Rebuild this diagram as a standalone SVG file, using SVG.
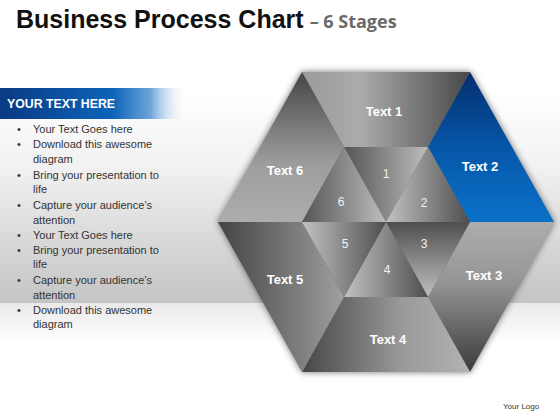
<svg xmlns="http://www.w3.org/2000/svg" width="560" height="420" viewBox="0 0 560 420">
<style>
.title{font-family:"Liberation Sans",Arial,sans-serif;font-weight:bold;fill:#111}
.sub{font-family:"Open Sans","Liberation Sans",sans-serif;font-weight:700;fill:#6a6a6a}
.bl{font-family:"Liberation Sans",Arial,sans-serif;font-size:11px;fill:#333}
.lbl{font-family:"Liberation Sans",Arial,sans-serif;font-weight:bold;font-size:13px;fill:#fff;text-anchor:middle}
.num{font-family:"Liberation Sans",Arial,sans-serif;font-size:12px;fill:#f2f2f2;text-anchor:middle}
</style>
<defs>
<linearGradient id="bg" x1="0" y1="0" x2="0" y2="1"><stop offset="0" stop-color="#ffffff"/><stop offset="0.35" stop-color="#f1f1f1"/><stop offset="1" stop-color="#c4c4c4"/></linearGradient>
<linearGradient id="bg2" x1="0" y1="0" x2="0" y2="1"><stop offset="0" stop-color="#e9e9e9"/><stop offset="1" stop-color="#ffffff"/></linearGradient>
<linearGradient id="ban" x1="0" y1="0" x2="1" y2="0"><stop offset="0" stop-color="#0a3a84"/><stop offset="0.6" stop-color="#0d64b9"/><stop offset="0.8" stop-color="#6da4d9"/><stop offset="1" stop-color="#ffffff" stop-opacity="0"/></linearGradient>
<linearGradient id="g1" x1="0" y1="0" x2="1" y2="0"><stop offset="0" stop-color="#9a9a9a"/><stop offset="0.35" stop-color="#ababab"/><stop offset="1" stop-color="#484848"/></linearGradient>
<linearGradient id="g2" x1="0" y1="0" x2="0" y2="1"><stop offset="0" stop-color="#042e6c"/><stop offset="0.5" stop-color="#0656a8"/><stop offset="1" stop-color="#0a72c8"/></linearGradient>
<linearGradient id="g3" x1="0" y1="0" x2="0" y2="1"><stop offset="0" stop-color="#adadad"/><stop offset="0.4" stop-color="#959595"/><stop offset="1" stop-color="#3a3a3a"/></linearGradient>
<linearGradient id="g4" x1="0" y1="0" x2="1" y2="0"><stop offset="0" stop-color="#474747"/><stop offset="0.6" stop-color="#9a9a9a"/><stop offset="1" stop-color="#b2b2b2"/></linearGradient>
<linearGradient id="g5" x1="0" y1="0" x2="1" y2="0"><stop offset="0" stop-color="#444444"/><stop offset="0.6" stop-color="#7a7a7a"/><stop offset="1" stop-color="#a0a0a0"/></linearGradient>
<linearGradient id="g6" x1="0" y1="0" x2="0" y2="1"><stop offset="0" stop-color="#454545"/><stop offset="0.6" stop-color="#9c9c9c"/><stop offset="1" stop-color="#adadad"/></linearGradient>
<linearGradient id="iLD" x1="0" y1="0" x2="1" y2="0"><stop offset="0" stop-color="#555555"/><stop offset="1" stop-color="#bdbdbd"/></linearGradient>
<linearGradient id="iDL" x1="0" y1="0" x2="1" y2="0"><stop offset="0" stop-color="#c2c2c2"/><stop offset="1" stop-color="#4e4e4e"/></linearGradient>
<linearGradient id="iV" x1="0" y1="0" x2="0" y2="1"><stop offset="0" stop-color="#4f4f4f"/><stop offset="1" stop-color="#c0c0c0"/></linearGradient>
<filter id="sh" x="-10%" y="-10%" width="120%" height="120%"><feGaussianBlur stdDeviation="3.5"/></filter>
</defs>

<rect x="0" y="0" width="560" height="420" fill="#ffffff"/>
<rect x="0" y="95" width="560" height="208" fill="url(#bg)"/>
<rect x="0" y="303" width="560" height="40" fill="url(#bg2)"/>

<g id="title">
<text x="16" y="28"><tspan class="title" font-size="25">Business Process Chart</tspan><tspan class="sub" font-size="18" dx="6">– 6 Stages</tspan></text>
</g>

<g id="banner">
<rect x="0" y="88" width="188" height="31" fill="url(#ban)"/>
<text x="7" y="108" font-family="Liberation Sans,Arial,sans-serif" font-weight="bold" font-size="12" fill="#fff" textLength="108" lengthAdjust="spacingAndGlyphs">YOUR TEXT HERE</text>
</g>

<g id="bullets" class="bl">
<text x="17" y="133">•</text><text x="33" y="133">Your Text Goes here</text>
<text x="17" y="148">•</text><text x="33" y="148">Download this awesome</text>
<text x="33" y="163">diagram</text>
<text x="17" y="179">•</text><text x="33" y="179">Bring your presentation to</text>
<text x="33" y="193">life</text>
<text x="17" y="209">•</text><text x="33" y="209">Capture your audience’s</text>
<text x="33" y="224">attention</text>
<text x="17" y="239">•</text><text x="33" y="239">Your Text Goes here</text>
<text x="17" y="254">•</text><text x="33" y="254">Bring your presentation to</text>
<text x="33" y="268">life</text>
<text x="17" y="284">•</text><text x="33" y="284">Capture your audience’s</text>
<text x="33" y="299">attention</text>
<text x="17" y="314">•</text><text x="33" y="314">Download this awesome</text>
<text x="33" y="328">diagram</text>
</g>

<polygon points="302,72 470,72 554,222 470,372 302,372 218,222" fill="#000" opacity="0.55" filter="url(#sh)"/>

<g id="stage1"><polygon points="302,72 470,72 428,147 344,147" fill="url(#g1)"/><text class="lbl" x="384" y="116">Text 1</text></g>
<g id="stage2"><polygon points="470,72 554,222 470,222 428,147" fill="url(#g2)"/><text class="lbl" x="480" y="171">Text 2</text></g>
<g id="stage3"><polygon points="554,222 470,372 428,297 470,222" fill="url(#g3)"/><text class="lbl" x="484" y="280">Text 3</text></g>
<g id="stage4"><polygon points="470,372 302,372 344,297 428,297" fill="url(#g4)"/><text class="lbl" x="388" y="344">Text 4</text></g>
<g id="stage5"><polygon points="302,372 218,222 302,222 344,297" fill="url(#g5)"/><text class="lbl" x="285" y="284">Text 5</text></g>
<g id="stage6"><polygon points="218,222 302,72 344,147 302,222" fill="url(#g6)"/><text class="lbl" x="285" y="175">Text 6</text></g>

<g id="inner1"><polygon points="344,147 428,147 386,222" fill="url(#iLD)"/><text class="num" x="386" y="178">1</text></g>
<g id="inner2"><polygon points="428,147 470,222 386,222" fill="url(#iDL)"/><text class="num" x="424" y="207">2</text></g>
<g id="inner3"><polygon points="470,222 428,297 386,222" fill="url(#iV)"/><text class="num" x="424" y="248">3</text></g>
<g id="inner4"><polygon points="428,297 344,297 386,222" fill="url(#iDL)"/><text class="num" x="387" y="274">4</text></g>
<g id="inner5"><polygon points="344,297 302,222 386,222" fill="url(#iDL)"/><text class="num" x="345" y="248">5</text></g>
<g id="inner6"><polygon points="302,222 344,147 386,222" fill="url(#iLD)"/><text class="num" x="341" y="206">6</text></g>

<g id="connectors"/>

<text x="503" y="409" font-family="Liberation Sans,Arial,sans-serif" font-size="8" fill="#333">Your Logo</text>
</svg>
